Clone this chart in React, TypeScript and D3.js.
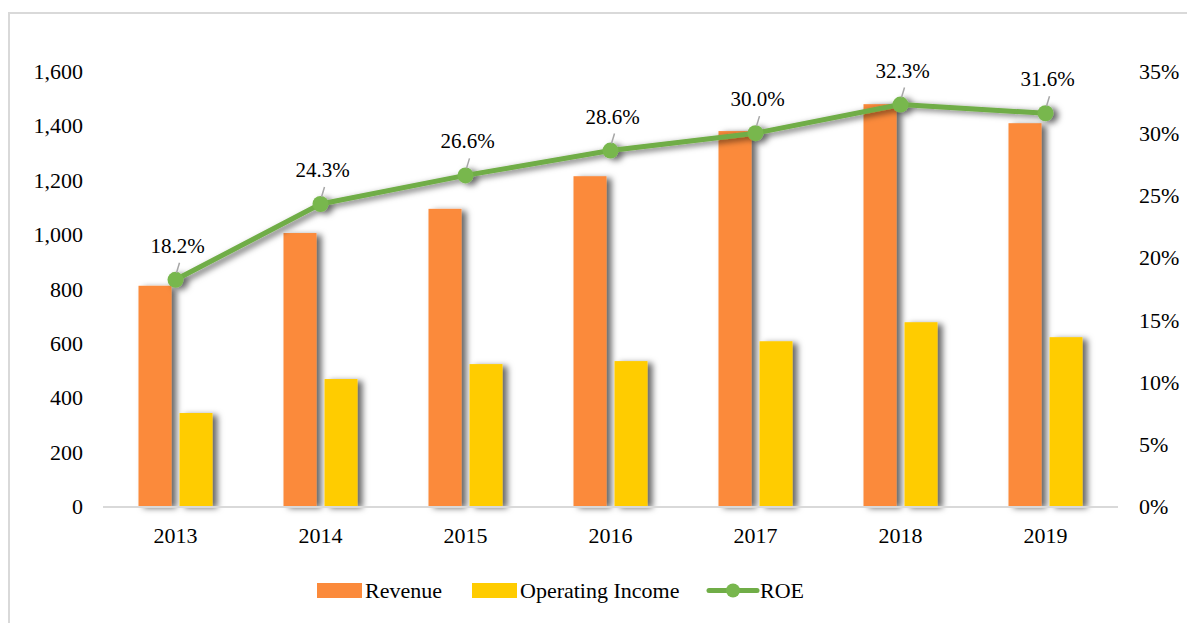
import * as d3 from 'd3'

const YEARS = ['2013', '2014', '2015', '2016', '2017', '2018', '2019']
const REVENUE = [810, 1004, 1093, 1213, 1379, 1478, 1408]
const OPERATING_INCOME = [342, 467, 522, 533, 606, 676, 621]
const ROE = [18.2, 24.3, 26.6, 28.6, 30.0, 32.3, 31.6]
const LEFT_TICKS = [0, 200, 400, 600, 800, 1000, 1200, 1400, 1600]
const RIGHT_TICKS = [0, 5, 10, 15, 20, 25, 30, 35]

const WIDTH = 1187
const HEIGHT = 623
const PLOT = { left: 103, right: 1118, top: 71, bottom: 506 }

const ORANGE = '#FB8A3B'
const YELLOW = '#FFCC00'
const GREEN = '#70AD47'
const MARKER = '#78B74E'
const FONT = 'Liberation Serif, Times New Roman, serif'

function App() {
  const x = d3.scaleBand().domain(YEARS).range([PLOT.left, PLOT.right])
  const yLeft = d3.scaleLinear().domain([0, 1600]).range([PLOT.bottom, PLOT.top])
  const yRight = d3.scaleLinear().domain([0, 35]).range([PLOT.bottom, PLOT.top])

  const barW = 33
  const gap = 8
  const cx = (y: string) => (x(y) ?? 0) + x.bandwidth() / 2

  const roePoints = YEARS.map((y, i) => [cx(y), yRight(ROE[i])] as [number, number])
  const line = d3.line()(roePoints) ?? ''

  const fmt = d3.format(',')
  const textStyle = { fontFamily: FONT, fontSize: 22, fill: '#000' }

  return (
    <div style={{ position: 'absolute', left: 0, top: 0 }}>
      <svg width={WIDTH} height={HEIGHT} style={{ display: 'block', background: '#fff' }}>
        <defs>
          <filter id="shadow" x="-30%" y="-30%" width="170%" height="170%">
            <feDropShadow dx="5" dy="2" stdDeviation="3" floodColor="#000" floodOpacity="0.6" />
          </filter>
        </defs>

        <rect x={9} y={13} width={WIDTH} height={HEIGHT} fill="none" stroke="#d9d9d9" strokeWidth={2} />

        {/* left axis */}
        {LEFT_TICKS.map((t) => (
          <text key={'l' + t} x={83} y={yLeft(t) + 8} textAnchor="end" style={textStyle}>
            {fmt(t)}
          </text>
        ))}

        {/* right axis */}
        {RIGHT_TICKS.map((t) => (
          <text key={'r' + t} x={1139} y={yRight(t) + 8} textAnchor="start" style={textStyle}>
            {t + '%'}
          </text>
        ))}

        {/* bars */}
        <g filter="url(#shadow)">
          {YEARS.map((y, i) => (
            <rect
              key={'rev' + y}
              x={cx(y) - gap / 2 - barW}
              y={yLeft(REVENUE[i])}
              width={barW}
              height={PLOT.bottom - yLeft(REVENUE[i])}
              fill={ORANGE}
            />
          ))}
          {YEARS.map((y, i) => (
            <rect
              key={'oi' + y}
              x={cx(y) + gap / 2}
              y={yLeft(OPERATING_INCOME[i])}
              width={barW}
              height={PLOT.bottom - yLeft(OPERATING_INCOME[i])}
              fill={YELLOW}
            />
          ))}
        </g>

        {/* baseline */}
        <line x1={PLOT.left} x2={PLOT.right} y1={PLOT.bottom + 1} y2={PLOT.bottom + 1} stroke="#d9d9d9" strokeWidth={2} />

        {/* x labels */}
        {YEARS.map((y) => (
          <text key={'x' + y} x={cx(y)} y={543} textAnchor="middle" style={textStyle}>
            {y}
          </text>
        ))}

        {/* ROE line */}
        <g filter="url(#shadow)">
          <path d={line} fill="none" stroke={GREEN} strokeWidth={5} strokeLinejoin="round" />
          {roePoints.map(([px, py], i) => (
            <circle key={'m' + i} cx={px} cy={py} r={8} fill={MARKER} />
          ))}
        </g>

        {/* data labels */}
        {roePoints.map(([px, py], i) => (
          <g key={'lab' + i}>
            <line x1={px + 1} y1={py - 7} x2={px + 4} y2={py - 17} stroke="#a6a6a6" strokeWidth={1.5} />
            <text x={px + 2} y={py - 27} textAnchor="middle" style={{ ...textStyle, fontSize: 21 }}>
              {ROE[i].toFixed(1) + '%'}
            </text>
          </g>
        ))}

        {/* legend */}
        <g>
          <rect x={317} y={583} width={45} height={15} fill={ORANGE} />
          <text x={365} y={598} style={textStyle}>Revenue</text>
          <rect x={472} y={583} width={45} height={15} fill={YELLOW} />
          <text x={520} y={598} style={textStyle}>Operating Income</text>
          <line x1={709} x2={757} y1={590.5} y2={590.5} stroke={GREEN} strokeWidth={5} strokeLinecap="round" />
          <circle cx={733} cy={590.5} r={7} fill={MARKER} />
          <text x={760} y={598} style={textStyle}>ROE</text>
        </g>
      </svg>
    </div>
  )
}

export default App
